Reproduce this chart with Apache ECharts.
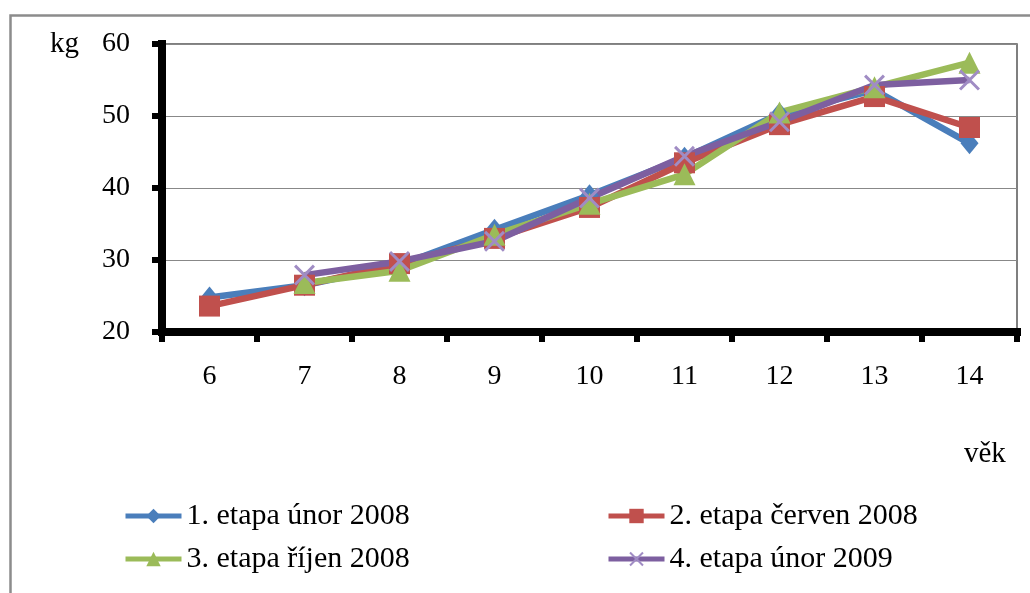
<!DOCTYPE html>
<html>
<head>
<meta charset="utf-8">
<script src="https://cdn.jsdelivr.net/npm/echarts@6/dist/echarts.min.js"></script>
<style>
html,body{margin:0;padding:0;background:#fff;}
#c{width:1030px;height:593px;}
</style>
</head>
<body>
<div id="c"></div>
<script>
const categories = ['6','7','8','9','10','11','12','13','14'];
const seriesNames = ['1. etapa únor 2008','2. etapa červen 2008','3. etapa říjen 2008','4. etapa únor 2009'];
const s1 = [24.8, 26.5, 29.3, 34.2, 39.0, 44.2, 50.3, 53.6, 46.2];
const s2 = [23.6, 26.5, 29.5, 33.0, 37.3, 43.5, 48.8, 52.7, 48.4];
const s3 = [null, 26.8, 28.5, 33.5, 37.8, 41.9, 50.5, 54.0, 57.4];
const s4 = [null, 27.9, 29.8, 32.6, 38.6, 44.4, 49.2, 54.3, 55.0];
const yTicks = {min: 20, max: 60, interval: 10};

const FONT = 'Liberation Serif';
const xPath = 'path://M0,1L1,0L10,9L9,10Z M9,0L10,1L1,10L0,9Z';

function mk(name, data, color, symbol, size, symColor) {
  return {
    name: name, type: 'line', data: data, connectNulls: false, z: 5,
    symbol: symbol, symbolSize: size, showSymbol: true,
    lineStyle: {color: color, width: 6.5},
    itemStyle: {color: symColor || color},
    emphasis: {disabled: true},
    animation: false
  };
}

const legendCommon = {
  orient: 'vertical', itemGap: 13, itemWidth: 56, itemHeight: 18,
  lineStyle: {width: 5},
  textStyle: {color: '#000', fontFamily: FONT, fontSize: 30, lineHeight: 30}
};

const chart = echarts.init(document.getElementById('c'));
chart.setOption({
  backgroundColor: '#fff',
  animation: false,
  grid: {left: 162, top: 44, right: 13, bottom: 261, show: true, borderColor: '#555', borderWidth: 1.5, z: 0},
  xAxis: {
    type: 'category', data: categories, boundaryGap: true, z: 3,
    axisLine: {lineStyle: {color: '#000', width: 8, cap: 'square'}},
    axisTick: {show: true, alignWithLabel: false, length: 10, lineStyle: {color: '#000', width: 6}},
    axisLabel: {color: '#000', fontFamily: FONT, fontSize: 28, margin: 31},
    splitLine: {show: false}
  },
  yAxis: {
    type: 'value', min: yTicks.min, max: yTicks.max, interval: yTicks.interval, z: 3,
    axisLine: {show: true, lineStyle: {color: '#000', width: 8, cap: 'square'}},
    axisTick: {show: true, length: 10, lineStyle: {color: '#000', width: 6}},
    axisLabel: {color: '#000', fontFamily: FONT, fontSize: 28, margin: 32},
    splitLine: {show: true, lineStyle: {color: '#888', width: 1.2}}
  },
  legend: [
    Object.assign({left: 118, top: 496, data: [seriesNames[0], seriesNames[2]]}, legendCommon),
    Object.assign({left: 601, top: 496, data: [seriesNames[1], seriesNames[3]]}, legendCommon)
  ],
  graphic: [
    {type: 'rect', left: 8, top: 13, shape: {width: 1100, height: 700}, style: {fill: 'none', stroke: '#8c8c8c', lineWidth: 2.5}, silent: true},
    {type: 'text', left: 50, top: 30, style: {text: 'kg', font: '29px "Liberation Serif"', fill: '#000'}},
    {type: 'text', left: 964, top: 440, style: {text: 'věk', font: '29px "Liberation Serif"', fill: '#000'}}
  ],
  series: [
    mk(seriesNames[0], s1, '#4A7EBB', 'diamond', [18, 22]),
    mk(seriesNames[1], s2, '#C0504D', 'rect', 21),
    mk(seriesNames[2], s3, '#9BBB59', 'triangle', 22),
    mk(seriesNames[3], s4, '#7D5FA0', xPath, 21, '#A08CC4')
  ]
});
</script>
</body>
</html>
